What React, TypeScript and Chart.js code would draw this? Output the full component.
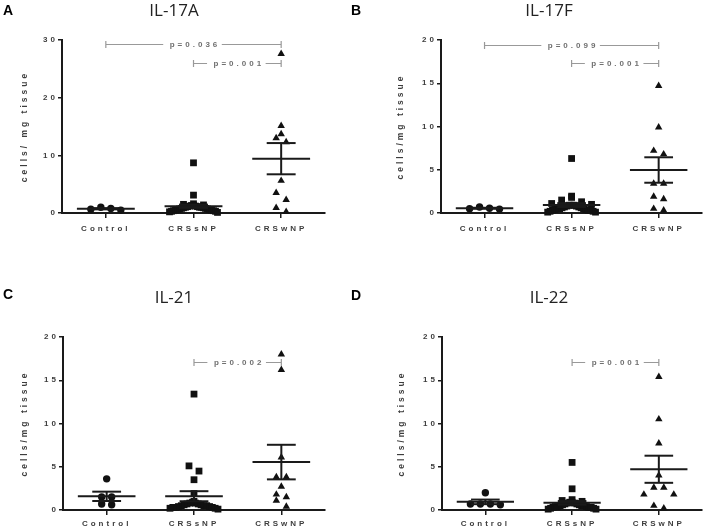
import React, { useEffect, useRef } from "react";
import { Chart, registerables } from "chart.js";

Chart.register(...registerables);

// ---------- data ----------
const categories = ["Control", "CRSsNP", "CRSwNP"];

const il17aControl = [0.8, 0.5, 0.65, 1.0];
const il17aCRSsNP = [8.7, 3.1, 1.6, 1.5, 1.4, 1.3, 1.3, 1.2, 1.2, 1.1, 1.1, 1.0, 1.0, 1.0, 0.9, 0.9, 0.8, 0.8, 0.7, 0.7, 0.6, 0.6, 0.5, 0.5, 0.4, 0.4, 0.3, 0.3, 0.2, 0.1];
const il17aCRSwNP = [27.6, 15.1, 13.7, 13.0, 12.3, 5.6, 3.5, 2.3, 0.9, 0.2];

const il17fControl = [0.55, 0.45, 0.5, 0.7];
const il17fCRSsNP = [6.3, 1.95, 1.8, 1.5, 1.3, 1.1, 1.0, 0.9, 0.9, 0.9, 0.8, 0.8, 0.7, 0.7, 0.6, 0.6, 0.5, 0.5, 0.5, 0.4, 0.4, 0.3, 0.3, 0.3, 0.2, 0.2, 0.1, 0.1];
const il17fCRSwNP = [14.7, 9.9, 7.2, 6.8, 3.4, 3.4, 1.9, 1.6, 0.3, 0.5];

const il21Control = [3.6, 1.5, 1.5, 0.7, 0.6];
const il21CRSsNP = [13.4, 5.1, 4.5, 3.5, 1.9, 1.0, 0.9, 0.8, 0.8, 0.7, 0.7, 0.6, 0.6, 0.5, 0.5, 0.5, 0.4, 0.4, 0.3, 0.3, 0.3, 0.2, 0.2, 0.1];
const il21CRSwNP = [18.0, 16.2, 6.1, 3.8, 3.8, 2.7, 1.8, 1.5, 1.1, 0.4];

const il22Control = [2.0, 0.7, 0.7, 0.6, 0.7];
const il22CRSsNP = [5.5, 2.45, 1.2, 1.1, 1.0, 0.9, 0.9, 0.8, 0.8, 0.7, 0.7, 0.6, 0.6, 0.5, 0.5, 0.5, 0.4, 0.4, 0.4, 0.3, 0.3, 0.3, 0.2, 0.2, 0.1, 0.1];
const il22CRSwNP = [15.4, 10.5, 7.7, 4.0, 2.6, 2.6, 1.8, 1.8, 0.5, 0.2];

const il17aBrackets = [
  { from: 0, to: 2, y: 29.3, label: "p=0.036" },
  { from: 1, to: 2, y: 26.0, label: "p=0.001" },
];
const il17fBrackets = [
  { from: 0, to: 2, y: 19.45, label: "p=0.099" },
  { from: 1, to: 2, y: 17.3, label: "p=0.001" },
];
const il21Brackets = [{ from: 1, to: 2, y: 17.1, label: "p=0.002" }];
const il22Brackets = [{ from: 1, to: 2, y: 17.1, label: "p=0.001" }];

const il17aYMax = 30;
const il17aYStep = 10;
const otherYMax = 20;
const otherYStep = 5;

// ---------- layout ----------
type Bracket = { from: number; to: number; y: number; label: string };
interface PanelSpec {
  letter: string;
  title: string;
  yTitle: string;
  yMax: number;
  yStep: number;
  groups: number[][];
  brackets: Bracket[];
  ox: number;
  oy: number;
  w: number;
  h: number;
  area: { left: number; right: number; top: number; bottom: number };
  yTitleX: number;
  titleX: number;
  titleY: number;
  letterY: number;
  xLabelPad: number;
}

const panels: PanelSpec[] = [
  {
    letter: "A", title: "IL-17A", yTitle: "cells/ mg tissue", yMax: il17aYMax, yStep: il17aYStep,
    groups: [il17aControl, il17aCRSsNP, il17aCRSwNP], brackets: il17aBrackets,
    ox: 0, oy: 0, w: 348, h: 266,
    area: { left: 62, right: 325, top: 40, bottom: 213 },
    yTitleX: 25, titleX: 174, titleY: 11, letterY: 11, xLabelPad: 6,
  },
  {
    letter: "B", title: "IL-17F", yTitle: "cells/mg tissue", yMax: otherYMax, yStep: otherYStep,
    groups: [il17fControl, il17fCRSsNP, il17fCRSwNP], brackets: il17fBrackets,
    ox: 348, oy: 0, w: 359, h: 266,
    area: { left: 93, right: 355, top: 40, bottom: 213 },
    yTitleX: 53, titleX: 201, titleY: 11, letterY: 11, xLabelPad: 6,
  },
  {
    letter: "C", title: "IL-21", yTitle: "cells/mg tissue", yMax: otherYMax, yStep: otherYStep,
    groups: [il21Control, il21CRSsNP, il21CRSwNP], brackets: il21Brackets,
    ox: 0, oy: 266, w: 348, h: 266,
    area: { left: 63, right: 325, top: 71, bottom: 244 },
    yTitleX: 25, titleX: 174, titleY: 32, letterY: 29, xLabelPad: 4,
  },
  {
    letter: "D", title: "IL-22", yTitle: "cells/mg tissue", yMax: otherYMax, yStep: otherYStep,
    groups: [il22Control, il22CRSsNP, il22CRSwNP], brackets: il22Brackets,
    ox: 348, oy: 266, w: 359, h: 266,
    area: { left: 94, right: 355, top: 71, bottom: 244 },
    yTitleX: 54, titleX: 201, titleY: 32, letterY: 30, xLabelPad: 4,
  },
];

const AXIS_COLOR = "#1a1a1a";
const TEXT_GREY = "#3d3d3d";
const BRACKET_GREY = "#999";
const POINT_COLOR = "#111";
const pointStyles = ["circle", "rect", "triangle"];
const pointRadii = [3.7, 4.8, 4.3];
const FONT = "'Liberation Sans', Arial, sans-serif";

// row-based scatter spreading (GraphPad-like), computed from the values
function swarmOffsets(values: number[], pxPerY: number, pxPerX: number): number[] {
  const binPx = 7;
  const maxSpread = 48;
  const baseSpacing = 10;
  const order = values.map((_, i) => i).sort((a, b) => values[a] - values[b]);
  const bins: number[][] = [];
  let start = -Infinity;
  for (const i of order) {
    const p = values[i] * pxPerY;
    if (bins.length === 0 || p - start >= binPx) {
      bins.push([i]);
      start = p;
    } else {
      bins[bins.length - 1].push(i);
    }
  }
  const out = new Array(values.length).fill(0);
  for (const bin of bins) {
    const n = bin.length;
    if (n === 1) continue;
    const sp = Math.min(baseSpacing, maxSpread / (n - 1));
    const slots = Array.from({ length: n }, (_, k) => (k - (n - 1) / 2) * sp).sort(
      (a, b) => Math.abs(a) - Math.abs(b) || a - b
    );
    const desc = bin.slice().sort((a, b) => values[b] - values[a]);
    desc.forEach((id, k) => {
      out[id] = slots[k] / pxPerX;
    });
  }
  return out;
}

function meanSem(vals: number[]) {
  const n = vals.length;
  const m = vals.reduce((s, v) => s + v, 0) / n;
  const sd = Math.sqrt(vals.reduce((s, v) => s + (v - m) * (v - m), 0) / (n - 1));
  return { m, sem: sd / Math.sqrt(n) };
}

function buildChart(canvas: HTMLCanvasElement, spec: PanelSpec) {
  const { area, w, h } = spec;
  const pxPerX = (area.right - area.left) / 3;
  const pxPerY = (area.bottom - area.top) / spec.yMax;
  const datasets = spec.groups.map((vals, g) => {
    const offs = swarmOffsets(vals, pxPerY, pxPerX);
    return {
      label: categories[g],
      data: vals.map((v, i) => ({ x: g + offs[i], y: v })),
      pointStyle: pointStyles[g],
      pointRadius: pointRadii[g],
      pointHoverRadius: pointRadii[g],
      backgroundColor: POINT_COLOR,
      borderColor: POINT_COLOR,
      borderWidth: 0,
      clip: false,
      showLine: false,
    };
  });

  const overlay = {
    id: "overlay",
    beforeDraw(chart: any) {
      chart.ctx.letterSpacing = "3px";
    },
    afterDatasetsDraw(chart: any) {
      const ctx = chart.ctx;
      const xs = chart.scales.x;
      const ys = chart.scales.y;
      ctx.save();
      ctx.strokeStyle = AXIS_COLOR;
      ctx.lineWidth = 2;
      spec.groups.forEach((vals, g) => {
        const { m, sem } = meanSem(vals);
        const line = (x1: number, y1: number, x2: number, y2: number) => {
          ctx.beginPath();
          ctx.moveTo(xs.getPixelForValue(x1), ys.getPixelForValue(y1));
          ctx.lineTo(xs.getPixelForValue(x2), ys.getPixelForValue(y2));
          ctx.stroke();
        };
        line(g - 0.33, m, g + 0.33, m);
        line(g, m - sem, g, m + sem);
        line(g - 0.165, m + sem, g + 0.165, m + sem);
        line(g - 0.165, m - sem, g + 0.165, m - sem);
      });
      ctx.font = `bold 8px ${FONT}`;
      ctx.textAlign = "center";
      ctx.textBaseline = "middle";
      spec.brackets.forEach((b) => {
        const x1 = xs.getPixelForValue(b.from);
        const x2 = xs.getPixelForValue(b.to);
        const y = Math.round(ys.getPixelForValue(b.y)) + 0.5;
        const mid = (x1 + x2) / 2;
        const tw = ctx.measureText(b.label).width;
        ctx.strokeStyle = BRACKET_GREY;
        ctx.lineWidth = 1.2;
        ctx.beginPath();
        ctx.moveTo(x1, y);
        ctx.lineTo(mid - tw / 2 - 5, y);
        ctx.moveTo(mid + tw / 2 + 3, y);
        ctx.lineTo(x2, y);
        ctx.moveTo(x1, y - 3.5);
        ctx.lineTo(x1, y + 3.5);
        ctx.moveTo(x2, y - 3.5);
        ctx.lineTo(x2, y + 3.5);
        ctx.stroke();
        ctx.fillStyle = "#707070";
        ctx.fillText(b.label, mid + 1.5, y + 0.5);
      });
      ctx.restore();
    },
    afterDraw(chart: any) {
      const ctx = chart.ctx;
      ctx.save();
      ctx.letterSpacing = "0px";
      ctx.fillStyle = "#222";
      ctx.textAlign = "center";
      ctx.textBaseline = "middle";
      ctx.font = "17px 'Open Sans', sans-serif";
      ctx.fillText(spec.title, spec.titleX, spec.titleY);
      ctx.fillStyle = "#000";
      ctx.textAlign = "left";
      ctx.font = `bold 14px ${FONT}`;
      ctx.fillText(spec.letter, 3, spec.letterY);
      ctx.restore();
    },
  };

  const tickFont = { family: FONT, size: 8, weight: "bold" as const };

  return new Chart(canvas, {
    type: "scatter",
    data: { datasets: datasets as any },
    options: {
      animation: false,
      responsive: false,
      events: [],
      layout: {
        padding: {
          left: 0,
          top: area.top,
          right: w - area.right,
          bottom: h - area.bottom - 20,
        },
      },
      plugins: {
        legend: { display: false },
        tooltip: { enabled: false },
        title: { display: false },
      },
      scales: {
        x: {
          type: "linear",
          min: -0.5,
          max: 2.5,
          afterFit: (scale: any) => {
            scale.height = 20;
          },
          afterBuildTicks: (scale: any) => {
            scale.ticks = categories.map((_, i) => ({ value: i }));
          },
          ticks: {
            callback: (v: any) => categories[Math.round(Number(v))] ?? "",
            color: TEXT_GREY,
            font: tickFont,
            padding: spec.xLabelPad,
            maxRotation: 0,
            autoSkip: false,
          },
          grid: {
            display: true,
            drawOnChartArea: false,
            drawTicks: true,
            tickLength: 5,
            color: AXIS_COLOR,
            lineWidth: 1.5,
          },
          border: { display: true, color: AXIS_COLOR, width: 2 },
        },
        y: {
          type: "linear",
          min: 0,
          max: spec.yMax,
          afterFit: (scale: any) => {
            scale.width = area.left;
          },
          ticks: {
            stepSize: spec.yStep,
            color: TEXT_GREY,
            font: tickFont,
            padding: 0,
          },
          grid: {
            display: true,
            drawOnChartArea: false,
            drawTicks: true,
            tickLength: 4,
            color: AXIS_COLOR,
            lineWidth: 1.5,
          },
          border: { display: true, color: AXIS_COLOR, width: 2 },
          title: {
            display: true,
            text: spec.yTitle,
            color: TEXT_GREY,
            font: { family: FONT, size: 8.5, weight: "bold" },
            padding: { top: spec.yTitleX - 5.1, bottom: 0 },
          },
        },
      },
    } as any,
    plugins: [overlay],
  });
}

function Panel({ spec }: { spec: PanelSpec }) {
  const ref = useRef<HTMLCanvasElement | null>(null);
  useEffect(() => {
    if (!ref.current) return;
    const chart = buildChart(ref.current, spec);
    return () => chart.destroy();
  }, [spec]);
  return (
    <canvas
      ref={ref}
      width={spec.w}
      height={spec.h}
      style={{ position: "absolute", left: spec.ox, top: spec.oy, width: spec.w, height: spec.h }}
    />
  );
}

export default function App() {
  return (
    <div style={{ position: "fixed", left: 0, top: 0, width: 707, height: 532, background: "#fff", overflow: "hidden" }}>
      {panels.map((p) => (
        <Panel key={p.letter} spec={p} />
      ))}
    </div>
  );
}
